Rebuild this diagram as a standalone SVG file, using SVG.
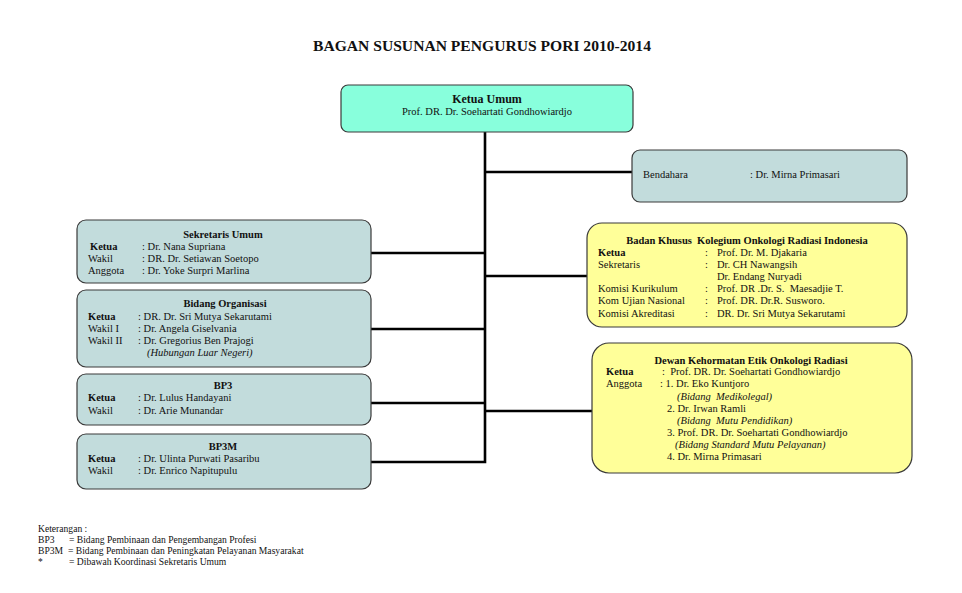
<svg xmlns="http://www.w3.org/2000/svg" width="962" height="593" viewBox="0 0 962 593">
<style>
text{font-family:"Liberation Serif","Times New Roman",serif;font-size:10.5px;fill:#111;white-space:pre}
.b{font-weight:bold}
.i{font-style:italic}
.c{text-anchor:middle}
.box{stroke:#3a3a3a;stroke-width:1.2}
.teal{fill:#c2dcdc}
.aqua{fill:#88ffdc}
.yel{fill:#ffff99}
.con{stroke:#000;stroke-width:2.6;fill:none}
.note{font-size:9.6px}
</style>
<rect width="962" height="593" fill="#fff"/>
<text x="482" y="51" class="b c" style="font-size:15.6px">BAGAN SUSUNAN PENGURUS PORI 2010-2014</text>
<g id="connectors">
<path class="con" d="M485 132V462H371M485 172H632M371 253H485M371 329H485M371 403H485M485 276H587M485 411H592"/>
</g>
<g id="ketua-umum">
<rect class="box aqua" x="341" y="85" width="292" height="47" rx="7"/>
<text x="487" y="103" class="b c" style="font-size:12px">Ketua Umum</text>
<text x="487" y="115" class="c">Prof. DR. Dr. Soehartati Gondhowiardjo</text>
</g>
<g id="bendahara">
<rect class="box teal" x="632" y="150" width="275" height="52" rx="8"/>
<text x="643" y="178">Bendahara</text>
<text x="750" y="178">: Dr. Mirna Primasari</text>
</g>
<g id="sekretaris-umum">
<rect class="box teal" x="77" y="220" width="294" height="63" rx="9"/>
<text x="223" y="238" class="b c">Sekretaris Umum</text>
<text x="90" y="250" class="b">Ketua</text><text x="142" y="250">: Dr. Nana Supriana</text>
<text x="88" y="262">Wakil</text><text x="142" y="262">: DR. Dr. Setiawan Soetopo</text>
<text x="88" y="274">Anggota</text><text x="142" y="274">: Dr. Yoke Surpri Marlina</text>
</g>
<g id="bidang-organisasi">
<rect class="box teal" x="77" y="290" width="294" height="77" rx="9"/>
<text x="225" y="307" class="b c">Bidang Organisasi</text>
<text x="88" y="320" class="b">Ketua</text><text x="138" y="320">: DR. Dr. Sri Mutya Sekarutami</text>
<text x="88" y="332">Wakil I</text><text x="138" y="332">: Dr. Angela Giselvania</text>
<text x="88" y="344">Wakil II</text><text x="138" y="344">: Dr. Gregorius Ben Prajogi</text>
<text x="147" y="356" class="i">(Hubungan Luar Negeri)</text>
</g>
<g id="bp3">
<rect class="box teal" x="77" y="374" width="294" height="51" rx="9"/>
<text x="223" y="389" class="b c">BP3</text>
<text x="88" y="401" class="b">Ketua</text><text x="138" y="401">: Dr. Lulus Handayani</text>
<text x="88" y="414">Wakil</text><text x="138" y="414">: Dr. Arie Munandar</text>
</g>
<g id="bp3m">
<rect class="box teal" x="77" y="434" width="294" height="55" rx="9"/>
<text x="223" y="450" class="b c">BP3M</text>
<text x="88" y="462" class="b">Ketua</text><text x="138" y="462">: Dr. Ulinta Purwati Pasaribu</text>
<text x="88" y="474">Wakil</text><text x="138" y="474">: Dr. Enrico Napitupulu</text>
</g>
<g id="badan-khusus">
<rect class="box yel" x="587" y="223" width="320" height="104" rx="15"/>
<text x="747" y="244" class="b c" xml:space="preserve">Badan Khusus  Kolegium Onkologi Radiasi Indonesia</text>
<text x="598" y="256" class="b">Ketua</text><text x="705" y="256">:</text><text x="717" y="256">Prof. Dr. M. Djakaria</text>
<text x="598" y="268">Sekretaris</text><text x="705" y="268">:</text><text x="717" y="268">Dr. CH Nawangsih</text>
<text x="717" y="280">Dr. Endang Nuryadi</text>
<text x="598" y="292">Komisi Kurikulum</text><text x="705" y="292">:</text><text x="717" y="292" xml:space="preserve">Prof. DR .Dr. S.  Maesadjie T.</text>
<text x="598" y="304">Kom Ujian Nasional</text><text x="705" y="304">:</text><text x="717" y="304">Prof. DR. Dr.R. Susworo.</text>
<text x="598" y="317">Komisi Akreditasi</text><text x="705" y="317">:</text><text x="717" y="317">DR. Dr. Sri Mutya Sekarutami</text>
</g>
<g id="dewan-kehormatan">
<rect class="box yel" x="592" y="343" width="320" height="130" rx="17"/>
<text x="751" y="364" class="b c">Dewan Kehormatan Etik Onkologi Radiasi</text>
<text x="606" y="375" class="b">Ketua</text><text x="662" y="375" xml:space="preserve">:  Prof. DR. Dr. Soehartati Gondhowiardjo</text>
<text x="606" y="387">Anggota</text><text x="660" y="387">: 1. Dr. Eko Kuntjoro</text>
<text x="677" y="400" class="i" xml:space="preserve">(Bidang  Medikolegal)</text>
<text x="667" y="412">2. Dr. Irwan Ramli</text>
<text x="677" y="424" class="i" xml:space="preserve">(Bidang  Mutu Pendidikan)</text>
<text x="667" y="436">3. Prof. DR. Dr. Soehartati Gondhowiardjo</text>
<text x="675" y="448" class="i">(Bidang Standard Mutu Pelayanan)</text>
<text x="667" y="460">4. Dr. Mirna Primasari</text>
</g>
<g id="keterangan">
<text x="38" y="532" class="note">Keterangan :</text>
<text x="38" y="543" class="note">BP3</text><text x="69" y="543" class="note">= Bidang Pembinaan dan Pengembangan Profesi</text>
<text x="38" y="554" class="note">BP3M</text><text x="68" y="554" class="note">= Bidang Pembinaan dan Peningkatan Pelayanan Masyarakat</text>
<text x="38" y="565" class="note">*</text><text x="69" y="565" class="note">= Dibawah Koordinasi Sekretaris Umum</text>
</g>
</svg>
